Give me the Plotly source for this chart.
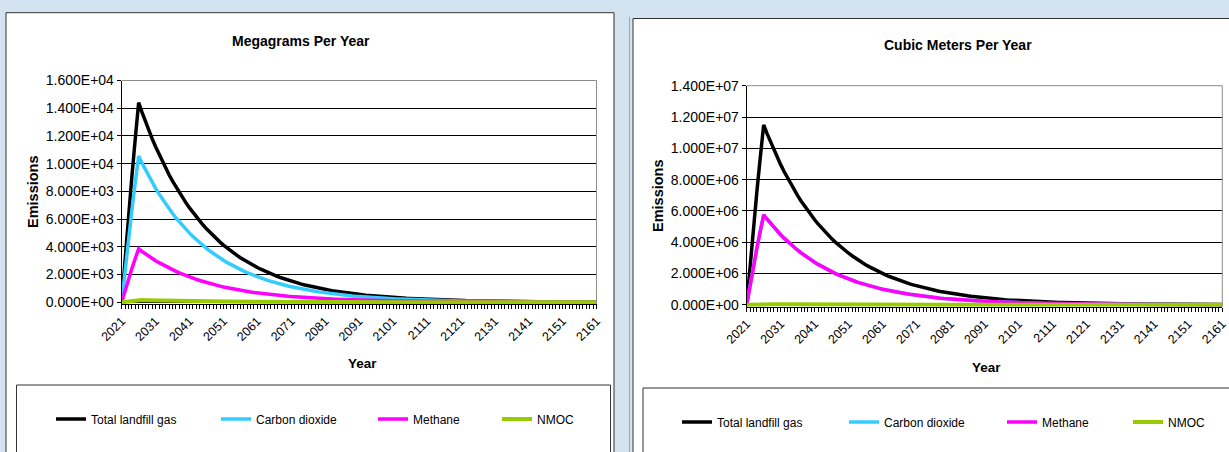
import plotly.graph_objects as go

W, H = 1229, 452

# ---------------- data ----------------
years = list(range(2021, 2162))

# Megagrams per year
total_mg = [0, 3175, 6195, 9068, 11801, 14400,
    13698, 13030, 12394, 11790, 11215, 10668, 10148, 9653, 9182, 8734,
    8308, 7903, 7517, 7151, 6802, 6470, 6155, 5855, 5569, 5297,
    5039, 4793, 4560, 4337, 4126, 3924, 3733, 3551, 3378, 3213,
    3056, 2907, 2766, 2631, 2502, 2380, 2264, 2154, 2049, 1949,
    1854, 1763, 1677, 1596, 1518, 1444, 1373, 1306, 1243, 1182,
    1124, 1070, 1017, 968, 921, 876, 833, 792, 754, 717,
    682, 649, 617, 587, 558, 531, 505, 481, 457, 435,
    414, 393, 374, 356, 339, 322, 306, 291, 277, 264,
    251, 239, 227, 216, 205, 195, 186, 177, 168, 160,
    152, 145, 138, 131, 125, 119, 113, 107, 102, 97,
    92, 88, 84, 79, 76, 72, 68, 65, 62, 59,
    56, 53, 51, 48, 46, 44, 41, 39, 38, 36,
    34, 32, 31, 29, 28, 26, 25, 24, 23, 22,
    21, 20, 19, 18, 17]

co2_mg = [0, 2326, 4539, 6643, 8646, 10550,
    10036, 9546, 9080, 8638, 8216, 7816, 7434, 7072, 6727, 6399,
    6087, 5790, 5508, 5239, 4983, 4740, 4509, 4289, 4080, 3881,
    3692, 3512, 3341, 3178, 3023, 2875, 2735, 2602, 2475, 2354,
    2239, 2130, 2026, 1927, 1833, 1744, 1659, 1578, 1501, 1428,
    1358, 1292, 1229, 1169, 1112, 1058, 1006, 957, 910, 866,
    824, 784, 745, 709, 674, 642, 610, 580, 552, 525,
    500, 475, 452, 430, 409, 389, 370, 352, 335, 319,
    303, 288, 274, 261, 248, 236, 225, 214, 203, 193,
    184, 175, 166, 158, 150, 143, 136, 130, 123, 117,
    111, 106, 101, 96, 91, 87, 83, 79, 75, 71,
    68, 64, 61, 58, 55, 53, 50, 48, 45, 43,
    41, 39, 37, 35, 34, 32, 30, 29, 27, 26,
    25, 24, 23, 21, 20, 19, 18, 18, 17, 16,
    15, 14, 14, 13, 12]

ch4_mg = [0, 849, 1656, 2424, 3155, 3850,
    3662, 3484, 3314, 3152, 2998, 2852, 2713, 2581, 2455, 2335,
    2221, 2113, 2010, 1912, 1819, 1730, 1646, 1565, 1489, 1416,
    1347, 1282, 1219, 1160, 1103, 1049, 998, 949, 903, 859,
    817, 777, 739, 703, 669, 636, 605, 576, 548, 521,
    496, 471, 448, 427, 406, 386, 367, 349, 332, 316,
    301, 286, 272, 259, 246, 234, 223, 212, 202, 192,
    182, 173, 165, 157, 149, 142, 135, 128, 122, 116,
    111, 105, 100, 95, 91, 86, 82, 78, 74, 71,
    67, 64, 61, 58, 55, 52, 50, 47, 45, 43,
    41, 39, 37, 35, 33, 32, 30, 29, 27, 26,
    25, 23, 22, 21, 20, 19, 18, 17, 17, 16,
    15, 14, 14, 13, 12, 12, 11, 11, 10, 10,
    9, 9, 8, 8, 7, 7, 7, 6, 6, 6,
    6, 5, 5, 5, 5]

nmoc_mg = [0, 36, 71, 104, 135, 165,
    157, 149, 142, 135, 129, 122, 116, 111, 105, 100,
    95, 91, 86, 82, 78, 74, 71, 67, 64, 61,
    58, 55, 52, 50, 47, 45, 43, 41, 39, 37,
    35, 33, 32, 30, 29, 27, 26, 25, 23, 22,
    21, 20, 19, 18, 17, 17, 16, 15, 14, 14,
    13, 12, 12, 11, 11, 10, 9.5, 9.1, 8.6, 8.2,
    7.8, 7.4, 7.1, 6.7, 6.4, 6.1, 5.8, 5.5, 5.2, 5.0,
    4.7, 4.5, 4.3, 4.1, 3.9, 3.7, 3.5, 3.3, 3.2, 3.0,
    2.9, 2.7, 2.6, 2.5, 2.4, 2.2, 2.1, 2.0, 1.9, 1.8,
    1.7, 1.7, 1.6, 1.5, 1.4, 1.4, 1.3, 1.2, 1.2, 1.1,
    1.1, 1.0, 0.96, 0.91, 0.87, 0.82, 0.78, 0.75, 0.71, 0.67,
    0.64, 0.61, 0.58, 0.55, 0.53, 0.50, 0.48, 0.45, 0.43, 0.41,
    0.39, 0.37, 0.35, 0.33, 0.32, 0.30, 0.29, 0.27, 0.26, 0.25,
    0.24, 0.22, 0.21, 0.20, 0.19]

# Cubic meters per year
total_m3 = [0, 2.536e6, 4.947e6, 7.242e6, 9.424e6, 11.5e6,
    10.939e6, 10.406e6, 9.898e6, 9.415e6, 8.956e6, 8.519e6, 8.104e6, 7.709e6, 7.333e6, 6.975e6,
    6.635e6, 6.311e6, 6.004e6, 5.711e6, 5.432e6, 5.167e6, 4.915e6, 4.676e6, 4.448e6, 4.231e6,
    4.024e6, 3.828e6, 3.641e6, 3.464e6, 3.295e6, 3.134e6, 2.981e6, 2.836e6, 2.698e6, 2.566e6,
    2.441e6, 2.322e6, 2.209e6, 2.101e6, 1.998e6, 1.901e6, 1.808e6, 1.720e6, 1.636e6, 1.556e6,
    1.480e6, 1.408e6, 1.340e6, 1.274e6, 1.212e6, 1.153e6, 1.097e6, 1.043e6, 0.992e6, 0.944e6,
    0.898e6, 0.854e6, 0.812e6, 0.773e6, 0.735e6, 0.699e6, 0.665e6, 0.633e6, 0.602e6, 0.573e6,
    0.545e6, 0.518e6, 0.493e6, 0.469e6, 0.446e6, 0.424e6, 0.403e6, 0.384e6, 0.365e6, 0.347e6,
    0.330e6, 0.314e6, 0.299e6, 0.284e6, 0.270e6, 0.257e6, 0.245e6, 0.233e6, 0.221e6, 0.211e6,
    0.200e6, 0.191e6, 0.181e6, 0.172e6, 0.164e6, 0.156e6, 0.148e6, 0.141e6, 0.134e6, 0.128e6,
    0.122e6, 0.116e6, 0.110e6, 0.105e6, 0.0995e6, 0.0946e6, 0.0900e6, 0.0856e6, 0.0815e6, 0.0775e6,
    0.0737e6, 0.0701e6, 0.0667e6, 0.0634e6, 0.0604e6, 0.0574e6, 0.0546e6, 0.0519e6, 0.0494e6, 0.0470e6,
    0.0447e6, 0.0425e6, 0.0405e6, 0.0385e6, 0.0366e6, 0.0348e6, 0.0331e6, 0.0315e6, 0.0300e6, 0.0285e6,
    0.0271e6, 0.0258e6, 0.0245e6, 0.0233e6, 0.0222e6, 0.0211e6, 0.0201e6, 0.0191e6, 0.0182e6, 0.0173e6,
    0.0164e6, 0.0156e6, 0.0149e6, 0.0142e6, 0.0135e6]

co2_m3 = [0, 1.268e6, 2.474e6, 3.621e6, 4.712e6, 5.75e6,
    5.470e6, 5.203e6, 4.949e6, 4.708e6, 4.478e6, 4.260e6, 4.052e6, 3.854e6, 3.666e6, 3.488e6,
    3.317e6, 3.156e6, 3.002e6, 2.855e6, 2.716e6, 2.584e6, 2.458e6, 2.338e6, 2.224e6, 2.115e6,
    2.012e6, 1.914e6, 1.821e6, 1.732e6, 1.647e6, 1.567e6, 1.491e6, 1.418e6, 1.349e6, 1.283e6,
    1.220e6, 1.161e6, 1.104e6, 1.050e6, 0.999e6, 0.950e6, 0.904e6, 0.860e6, 0.818e6, 0.778e6,
    0.740e6, 0.704e6, 0.670e6, 0.637e6, 0.606e6, 0.576e6, 0.548e6, 0.522e6, 0.496e6, 0.472e6,
    0.449e6, 0.427e6, 0.406e6, 0.386e6, 0.368e6, 0.350e6, 0.333e6, 0.316e6, 0.301e6, 0.286e6,
    0.272e6, 0.259e6, 0.246e6, 0.234e6, 0.223e6, 0.212e6, 0.202e6, 0.192e6, 0.183e6, 0.174e6,
    0.165e6, 0.157e6, 0.149e6, 0.142e6, 0.135e6, 0.129e6, 0.122e6, 0.116e6, 0.111e6, 0.105e6,
    0.100e6, 0.095e6, 0.091e6, 0.086e6, 0.082e6, 0.078e6, 0.074e6, 0.071e6, 0.067e6, 0.064e6,
    0.061e6, 0.058e6, 0.055e6, 0.052e6, 0.050e6, 0.047e6, 0.045e6, 0.043e6, 0.041e6, 0.039e6,
    0.037e6, 0.035e6, 0.033e6, 0.032e6, 0.030e6, 0.029e6, 0.027e6, 0.026e6, 0.025e6, 0.023e6,
    0.022e6, 0.021e6, 0.020e6, 0.019e6, 0.018e6, 0.017e6, 0.017e6, 0.016e6, 0.015e6, 0.014e6,
    0.014e6, 0.013e6, 0.012e6, 0.012e6, 0.011e6, 0.011e6, 0.010e6, 0.010e6, 0.009e6, 0.009e6,
    0.008e6, 0.008e6, 0.007e6, 0.007e6, 0.007e6]

ch4_m3 = [0, 1.268e6, 2.474e6, 3.621e6, 4.712e6, 5.75e6,
    5.470e6, 5.203e6, 4.949e6, 4.708e6, 4.478e6, 4.260e6, 4.052e6, 3.854e6, 3.666e6, 3.488e6,
    3.317e6, 3.156e6, 3.002e6, 2.855e6, 2.716e6, 2.584e6, 2.458e6, 2.338e6, 2.224e6, 2.115e6,
    2.012e6, 1.914e6, 1.821e6, 1.732e6, 1.647e6, 1.567e6, 1.491e6, 1.418e6, 1.349e6, 1.283e6,
    1.220e6, 1.161e6, 1.104e6, 1.050e6, 0.999e6, 0.950e6, 0.904e6, 0.860e6, 0.818e6, 0.778e6,
    0.740e6, 0.704e6, 0.670e6, 0.637e6, 0.606e6, 0.576e6, 0.548e6, 0.522e6, 0.496e6, 0.472e6,
    0.449e6, 0.427e6, 0.406e6, 0.386e6, 0.368e6, 0.350e6, 0.333e6, 0.316e6, 0.301e6, 0.286e6,
    0.272e6, 0.259e6, 0.246e6, 0.234e6, 0.223e6, 0.212e6, 0.202e6, 0.192e6, 0.183e6, 0.174e6,
    0.165e6, 0.157e6, 0.149e6, 0.142e6, 0.135e6, 0.129e6, 0.122e6, 0.116e6, 0.111e6, 0.105e6,
    0.100e6, 0.095e6, 0.091e6, 0.086e6, 0.082e6, 0.078e6, 0.074e6, 0.071e6, 0.067e6, 0.064e6,
    0.061e6, 0.058e6, 0.055e6, 0.052e6, 0.050e6, 0.047e6, 0.045e6, 0.043e6, 0.041e6, 0.039e6,
    0.037e6, 0.035e6, 0.033e6, 0.032e6, 0.030e6, 0.029e6, 0.027e6, 0.026e6, 0.025e6, 0.023e6,
    0.022e6, 0.021e6, 0.020e6, 0.019e6, 0.018e6, 0.017e6, 0.017e6, 0.016e6, 0.015e6, 0.014e6,
    0.014e6, 0.013e6, 0.012e6, 0.012e6, 0.011e6, 0.011e6, 0.010e6, 0.010e6, 0.009e6, 0.009e6,
    0.008e6, 0.008e6, 0.007e6, 0.007e6, 0.007e6]

nmoc_m3 = [0, 10100, 19800, 29000, 37700, 46000,
    43760, 41620, 39590, 37660, 35820, 34080, 32420, 30830, 29330, 27900,
    26540, 25250, 24010, 22840, 21730, 20670, 19660, 18700, 17790, 16920,
    16100, 15310, 14570, 13850, 13180, 12540, 11930, 11340, 10790, 10260,
    9760, 9290, 8830, 8400, 7990, 7600, 7230, 6880, 6540, 6230,
    5920, 5630, 5360, 5100, 4850, 4610, 4390, 4170, 3970, 3780,
    3590, 3420, 3250, 3090, 2940, 2800, 2660, 2530, 2410, 2290,
    2180, 2070, 1970, 1880, 1780, 1700, 1610, 1540, 1460, 1390,
    1320, 1260, 1200, 1140, 1080, 1030, 980, 930, 890, 840,
    800, 760, 730, 690, 660, 620, 590, 560, 540, 510,
    490, 460, 440, 420, 400, 380, 360, 340, 330, 310,
    290, 280, 270, 250, 240, 230, 220, 210, 200, 190,
    180, 170, 160, 150, 150, 140, 130, 130, 120, 110,
    110, 100, 98, 93, 89, 84, 80, 76, 73, 69,
    66, 63, 60, 57, 54]

series_names = ["Total landfill gas", "Carbon dioxide", "Methane", "NMOC"]
series_colors = ["#000000", "#33CCFF", "#FF00FF", "#99CC00"]

x_tick_years = [2021, 2031, 2041, 2051, 2061, 2071, 2081, 2091, 2101, 2111,
                2121, 2131, 2141, 2151, 2161]

left_yticks = [0, 2000, 4000, 6000, 8000, 10000, 12000, 14000, 16000]
left_ylabels = ["0.000E+00", "2.000E+03", "4.000E+03", "6.000E+03", "8.000E+03",
                "1.000E+04", "1.200E+04", "1.400E+04", "1.600E+04"]
right_yticks = [0, 2e6, 4e6, 6e6, 8e6, 1e7, 1.2e7, 1.4e7]
right_ylabels = ["0.000E+00", "2.000E+06", "4.000E+06", "6.000E+06", "8.000E+06",
                 "1.000E+07", "1.200E+07", "1.400E+07"]

left_title = "Megagrams Per Year"
right_title = "Cubic Meters Per Year"
y_title = "Emissions"
x_title = "Year"

# ---------------- helpers ----------------
FONT = "Liberation Sans, Arial, sans-serif"
BG = "#D4E3F0"
LINE_W = [3.5, 3.5, 3.5, 4]


def px(x):
    return x / W


def py(y):
    return 1 - y / H


fig = go.Figure()

left_series = [total_mg, co2_mg, ch4_mg, nmoc_mg]
right_series = [total_m3, co2_m3, ch4_m3, nmoc_m3]

for i, (name, col, vals) in enumerate(zip(series_names, series_colors, left_series)):
    fig.add_trace(go.Scatter(x=years, y=vals, name=name, mode="lines",
                             line=dict(color=col, width=LINE_W[i]), showlegend=True,
                             xaxis="x", yaxis="y",
                             legend="legend" if i == 0 else f"legend{i+1}"))
for i, (name, col, vals) in enumerate(zip(series_names, series_colors, right_series)):
    fig.add_trace(go.Scatter(x=years, y=vals, name=name, mode="lines",
                             line=dict(color=col, width=LINE_W[i]), showlegend=True,
                             xaxis="x2", yaxis="y2",
                             legend=f"legend{i+5}"))

# plot areas (pixel positions)
L = dict(x0=121.7, x1=596.5, y0=80.5, y1=304)
R = dict(x0=746.7, x1=1222.3, y0=85.7, y1=306.7)

axis_font = dict(family=FONT, size=14, color="#000")
xfont = dict(family=FONT, size=12.5, color="#000")

common_x = dict(range=[2021, 2161], tickmode="array", tickvals=x_tick_years,
                ticktext=[str(v) for v in x_tick_years], tickangle=-45,
                ticks="outside", ticklen=4, tickcolor="#000", tickfont=xfont,
                showline=True, linecolor="#000", linewidth=1, showgrid=False,
                zeroline=False, automargin=False,
                minor=dict(dtick=1, tick0=2021, ticks="outside", ticklen=4,
                           tickcolor="#000", showgrid=False))

common_y = dict(tickmode="array", tickfont=axis_font, ticks="outside",
                ticklen=4, tickcolor="#000", showline=True, linecolor="#000",
                showgrid=True, gridcolor="#000", gridwidth=1, zeroline=False,
                automargin=False)

fig.update_layout(
    width=W, height=H, autosize=False,
    margin=dict(l=0, r=0, t=0, b=0, pad=0, autoexpand=False),
    showlegend=True,
    paper_bgcolor=BG, plot_bgcolor="white",
    font=dict(family=FONT, color="#000"),
    xaxis=dict(domain=[px(L["x0"]), px(L["x1"])], anchor="y", **common_x),
    yaxis=dict(domain=[py(L["y1"]), py(L["y0"])], anchor="x",
               range=[-130, 16000], tickvals=left_yticks,
               ticktext=left_ylabels, **common_y),
    xaxis2=dict(domain=[px(R["x0"]), px(R["x1"])], anchor="y2", **common_x),
    yaxis2=dict(domain=[py(R["y1"]), py(R["y0"])], anchor="x2",
                range=[-1.2e5, 1.4e7], tickvals=right_yticks,
                ticktext=right_ylabels, **common_y),
)

# legends, one per entry so that spacing matches
leg_left_x = [51, 216, 373, 497]
leg_right_x = [677, 844, 1002, 1128]
leg_font = dict(family=FONT, size=12, color="#000")
for i, lx in enumerate(leg_left_x + leg_right_x):
    key = "legend" if i == 0 else f"legend{i+1}"
    ly = 419 if i < 4 else 422
    fig.update_layout({key: dict(x=px(lx), y=py(ly), xanchor="left", yanchor="middle",
                                 orientation="h", bgcolor="rgba(0,0,0,0)", visible=True,
                                 borderwidth=0, font=leg_font, itemwidth=30)})

shapes = []
# panels
shapes.append(dict(type="rect", xref="paper", yref="paper", layer="below",
                   x0=px(6), x1=px(614), y0=py(12.7), y1=-0.05,
                   fillcolor="white", line=dict(color="#333", width=1)))
shapes.append(dict(type="line", xref="paper", yref="paper", layer="below",
                   x0=px(629.5), x1=px(629.5), y0=py(17), y1=-0.05,
                   line=dict(color="#9AA8B4", width=1)))
shapes.append(dict(type="rect", xref="paper", yref="paper", layer="below",
                   x0=px(633), x1=1.05, y0=py(18.5), y1=-0.05,
                   fillcolor="white", line=dict(color="#333", width=1)))
# legend boxes
shapes.append(dict(type="rect", xref="paper", yref="paper", layer="below",
                   x0=px(16.5), x1=px(610.5), y0=py(385), y1=-0.05,
                   fillcolor="white", line=dict(color="#333", width=1)))
shapes.append(dict(type="rect", xref="paper", yref="paper", layer="below",
                   x0=px(643), x1=1.05, y0=py(388), y1=-0.05,
                   fillcolor="white", line=dict(color="#333", width=1)))
# gray plot-area border (top & right)
for xa, ya in (("x", "y"), ("x2", "y2")):
    shapes.append(dict(type="line", xref=f"{xa} domain", yref=f"{ya} domain",
                       x0=0, x1=1, y0=1, y1=1, layer="above",
                       line=dict(color="#8C8C8C", width=1)))
    shapes.append(dict(type="line", xref=f"{xa} domain", yref=f"{ya} domain",
                       x0=1, x1=1, y0=0, y1=1, layer="above",
                       line=dict(color="#8C8C8C", width=1)))
fig.update_layout(shapes=shapes)

title_font = dict(family=FONT, size=14, color="#000")
ytitle_font = dict(family=FONT, size=14.5, color="#000")
xtitle_font = dict(family=FONT, size=13.5, color="#000")
ann = [
    dict(text=f"<b>{left_title}</b>", x=px(301), y=py(41), font=title_font),
    dict(text=f"<b>{right_title}</b>", x=px(958), y=py(45), font=title_font),
    dict(text=f"<b>{y_title}</b>", x=px(33), y=py(192), textangle=-90, font=ytitle_font),
    dict(text=f"<b>{y_title}</b>", x=px(658), y=py(196), textangle=-90, font=ytitle_font),
    dict(text=f"<b>{x_title}</b>", x=px(362), y=py(363), font=xtitle_font),
    dict(text=f"<b>{x_title}</b>", x=px(986), y=py(367), font=xtitle_font),
]
for a in ann:
    a.update(xref="paper", yref="paper", showarrow=False,
             xanchor="center", yanchor="middle")
fig.update_layout(annotations=ann)

fig.write_html(
    "out.html",
    config={"displayModeBar": False},
    post_script=("document.body.style.margin='0';"
                 "document.body.style.overflow='hidden';"
                 "document.body.style.background='" + BG + "';"),
)
